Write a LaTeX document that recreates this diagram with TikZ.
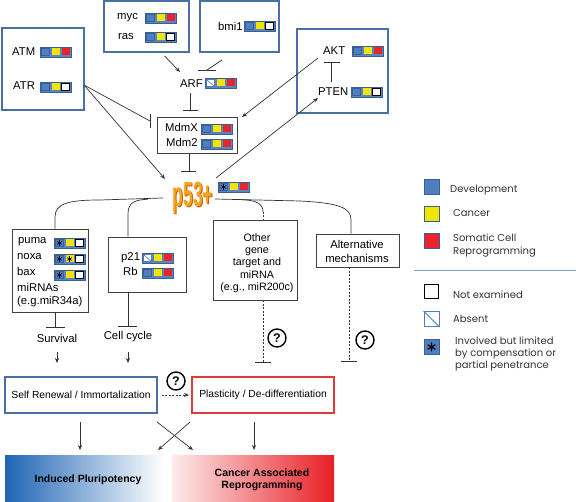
\documentclass[tikz,border=0pt]{standalone}
\usepackage{fontspec}
\setmainfont{Liberation Sans}
\newfontfamily\legfont{Poppins}
\usetikzlibrary{arrows.meta}
\definecolor{frameblue}{HTML}{4A6FA5}
\definecolor{sqblue}{HTML}{4F7FC0}
\definecolor{sqframe}{HTML}{5B84C4}
\definecolor{sqedge}{HTML}{3A5F95}
\definecolor{sqyellow}{HTML}{F2E600}
\definecolor{sqred}{HTML}{E8252B}
\definecolor{boxred}{HTML}{E03A3A}
\definecolor{linegray}{HTML}{333333}
\definecolor{p53dark}{HTML}{C8600A}
\definecolor{p53light}{HTML}{F5A423}
\definecolor{gradblue}{HTML}{1E64B4}
\definecolor{gradred}{HTML}{E81E25}
\definecolor{gradpink}{HTML}{FDECEC}
\definecolor{legline}{HTML}{7F9FCF}
\newcommand\astmark[4]{\draw[line width=#3] (#1,#2) +(90:#4) -- +(270:#4) (#1,#2) +(30:#4) -- +(210:#4) (#1,#2) +(150:#4) -- +(330:#4);}
\newcommand\cellB[1]{\filldraw[fill=sqblue,draw=sqedge,line width=0.4pt] (#1,1.5) rectangle ++(8,7);}
\newcommand\cellY[1]{\fill[sqyellow] (#1,1.5) rectangle ++(8,7);}
\newcommand\cellR[1]{\fill[sqred] (#1,1.5) rectangle ++(8,7);}
\newcommand\cellN[1]{\filldraw[fill=white,draw=black,line width=1.3pt] (#1,1.2) rectangle ++(8,7.6);}
\newcommand\cellA[1]{\filldraw[fill=white,draw=sqblue,line width=0.6pt] (#1,1.5) rectangle ++(8,7); \draw[sqblue,line width=0.6pt] (#1,1.5) -- ++(8,7);}
\newcommand\cellS[1]{\cellB{#1}\astmark{#1+4}{5}{0.6pt}{2.8}}
\newcommand\cellT[1]{\cellY{#1}\astmark{#1+4}{5}{0.6pt}{2.8}}
\newcommand\trip[5]{%
  \begin{scope}[shift={(#2)}]
    \coordinate (#1) at (0,0);
    \filldraw[fill=sqframe,draw=sqedge,line width=0.5pt] (0,0) rectangle (31,10);
    \csname cell#3\endcsname{1.5}
    \csname cell#4\endcsname{11.5}
    \csname cell#5\endcsname{21.5}
  \end{scope}}
\begin{document}
\begin{tikzpicture}[x=1pt,y=-1pt,
  bluebox/.style={draw=frameblue,line width=1.8pt,inner sep=0pt},
  graybox/.style={draw=black!75,line width=0.8pt,inner sep=0pt},
  redbox/.style={draw=boxred,line width=1.8pt,inner sep=0pt},
  conn/.style={draw=linegray,line width=0.7pt},
  act/.style={conn,-{Stealth[length=5pt,width=4pt]}},
  bar/.style={draw=linegray,line width=0.9pt},
  dashline/.style={conn,dash pattern=on 2pt off 1.5pt},
  lbl/.style={font=\fontsize{11.3}{13}\selectfont,inner sep=0pt,anchor=base west},
  ctr/.style={font=\fontsize{11.3}{13}\selectfont,inner sep=0pt,anchor=base},
  qmark/.style={circle,draw=black,line width=1.4pt,minimum size=18pt,inner sep=0pt,font=\bfseries\fontsize{12.5}{12.5}\selectfont},
  legsq/.style={minimum size=15pt,inner sep=0pt,line width=0.8pt},
  legtxt/.style={font=\legfont\fontsize{10}{12}\selectfont,inner sep=0pt,anchor=base west,text=black!80},
  btxt/.style={font=\bfseries\fontsize{10.5}{12.5}\selectfont,inner sep=0pt,align=center}
]
\useasboundingbox (0,0) rectangle (576,502);

% boxes
\node[bluebox,minimum width=82pt,minimum height=82pt] (atmbox) at (43,69) {};
\node[bluebox,minimum width=85pt,minimum height=51pt] (mycbox) at (146.5,26.5) {};
\node[bluebox,minimum width=79pt,minimum height=51pt] (bmibox) at (239.5,26.5) {};
\node[bluebox,minimum width=91pt,minimum height=84pt] (aktbox) at (342.5,71) {};
\node[graybox,minimum width=80pt,minimum height=36pt] (mdmbox) at (197.5,135) {};
\node[graybox,minimum width=76pt,minimum height=83pt] (pumabox) at (50,270.5) {};
\node[graybox,minimum width=78pt,minimum height=55pt] (p21box) at (147,264.5) {};
\node[graybox,minimum width=84pt,minimum height=80pt] (otherbox) at (255,260) {};
\node[graybox,minimum width=83pt,minimum height=33pt] (altbox) at (357.5,250.5) {};
\node[bluebox,minimum width=152pt,minimum height=36pt,font=\fontsize{10.3}{12}\selectfont] (selfbox) at (81,395) {Self Renewal / Immortalization};
\node[redbox,minimum width=142pt,minimum height=36pt,font=\fontsize{10.3}{12}\selectfont] (plastbox) at (263,395) {Plasticity / De-differentiation};

% labels and marker triples
\node[lbl] (atm) at (12,56) {ATM}; \trip{atmsq}{40,47}{B}{Y}{R}
\node[lbl] (atr) at (13,90) {ATR}; \trip{atrsq}{40,82}{B}{Y}{N}
\node[lbl] (myc) at (117,20) {myc}; \trip{mycsq}{145,13}{B}{Y}{R}
\node[lbl] (ras) at (118,40) {ras}; \trip{rassq}{145,32}{B}{Y}{N}
\node[lbl] (bmi) at (218,31) {bmi1}; \trip{bmisq}{244,21}{B}{Y}{N}
\node[lbl] (arf) at (180,88) {ARF}; \trip{arfsq}{205,78}{A}{Y}{R}
\node[lbl] (mdmx) at (165,132) {MdmX}; \trip{mdmxsq}{201,124}{B}{Y}{R}
\node[lbl] (mdm2) at (166,147) {Mdm2}; \trip{mdm2sq}{201,139}{B}{Y}{R}
\node[lbl] (akt) at (323,55) {AKT}; \trip{aktsq}{352,46}{B}{Y}{R}
\node[lbl] (pten) at (318,96) {PTEN}; \trip{ptensq}{351,87}{B}{Y}{N}
\node[lbl] (puma) at (18,244) {puma}; \trip{pumasq}{54,238}{S}{Y}{N}
\node[lbl] (noxa) at (17,260) {noxa}; \trip{noxasq}{54,254}{S}{T}{N}
\node[lbl] (bax) at (17,276) {bax}; \trip{baxsq}{54,270}{S}{Y}{N}
\node[lbl] (mirnas) at (17,292) {miRNAs};
\node[lbl] (mireg) at (17,305) {(e.g.miR34a)};
\node[lbl] (p21) at (121,261) {p21}; \trip{p21sq}{142,253}{A}{Y}{R}
\node[lbl] (rb) at (123,276) {Rb}; \trip{rbsq}{142,268}{B}{Y}{R}
\node[font=\fontsize{10.7}{12.3}\selectfont,align=center,inner sep=0pt] (othertxt) at (257,263) {Other\\gene\\target and\\miRNA\\(e.g., miR200c)};
\node[font=\fontsize{11.3}{14}\selectfont,align=center,inner sep=0pt] (alttxt) at (357,251) {Alternative\\mechanisms};
\node[ctr] (surv) at (57,343) {Survival};
\node[ctr] (cellc) at (128,340) {Cell cycle};

% p53 logo
\node[inner sep=0pt,text=p53dark] (p53) at (193.9,198.9) {\scalebox{0.5}[1]{\fontsize{35}{35}\selectfont\bfseries p53+}};
\node[inner sep=0pt,text=p53light] (p53front) at (193,198) {\scalebox{0.5}[1]{\fontsize{35}{35}\selectfont\bfseries p53+}};
\trip{p53sq}{218,182}{S}{Y}{R}

% question marks
\node[qmark] (q1) at (277,338) {?};
\node[qmark] (q2) at (365,340) {?};
\node[qmark] (q3) at (176,381) {?};

% connectors upstream
\coordinate (arfin) at (180,72);
\draw[act] ([xshift=18pt,yshift=-3pt]mycbox.south) -- (arfin);
\coordinate (bmiout) at (222,60);
\draw[conn] (bmiout) -- (207,70);
\draw[bar] (198,70) -- (216,70);
\draw[conn] ([xshift=10pt,yshift=-5pt]arf.south west) -- (190,110);
\draw[bar] (183,110) -- (198,110);
\draw[conn] (mdmbox.south -| 189,0) -- (189,171);
\draw[bar] (181,171) -- (196,171);
\coordinate (atrout) at (84,85);
\draw[conn] (atrout) -- (150,121);
\draw[bar] (150,114) -- (150,128);
\coordinate (p53in) at (165,179);
\draw[act] (atrout) -- (p53in);
\coordinate (aktout) at (318,58);
\coordinate (mdmin) at (242,117);
\draw[act] (aktout) -- (mdmin);
\coordinate (p53out) at (216,178);
\coordinate (ptenin) at (318,98);
\draw[act] (p53out) -- (ptenin);
\draw[conn] (331,82) -- (331,62);
\draw[bar] (324,62) -- (340,62);

% branches from p53
\draw[conn] (pumabox.north -| 55,0) -- (55,217) .. controls (55,203) and (70,200) .. (100,200) -- (163,198);
\draw[conn] (p21box.north -| 128,0) -- (128,214) .. controls (128,202) and (135,200) .. (148,199.2);
\draw[conn] (215,199) -- (300,201) .. controls (340,203) and (351,208) .. (351,220) -- (altbox.north -| 351,0);
\draw[conn] (240,199.6) .. controls (255,200) and (263,203) .. (263,212);
\draw[dashline] (263,212) -- (otherbox.north -| 263,0);

% downstream
\draw[conn] (pumabox.south -| 55,0) -- (55,327);
\draw[bar] (46,327) -- (65,327);
\draw[conn] (p21box.south -| 128,0) -- (128,326);
\draw[bar] (118,326) -- (137,326);
\draw[dashline] (otherbox.south -| 263,0) -- (263,362);
\draw[bar] (255,362) -- (271,362);
\draw[dashline] (altbox.south -| 349,0) -- (349,361);
\draw[bar] (341,361) -- (357,361);
\coordinate (survdown) at (57,363);
\draw[act] (57,352) -- (survdown);
\coordinate (ccdown) at (128,363);
\draw[act] (128,352) -- (ccdown);

% bottom
\draw[act,dash pattern=on 2pt off 1.5pt] (selfbox.east) ++(4,0) -- ([xshift=-2pt]plastbox.west);
\shade[left color=gradblue,right color=white] (5,456) rectangle (163,502);
\shade[left color=gradpink,right color=gradred] (172,456) rectangle (334,502);
\node[btxt] (ipsc) at (88,480) {Induced Pluripotency};
\node[btxt] (car) at (262,480) {Cancer Associated\\Reprogramming};
\draw[act] (80,422) -- (80,450);
\draw[act] (157,422) -- (193,450);
\draw[act] (190,422) -- (158,450);
\draw[act] (254,422) -- (254,450);

% legend
\node[legsq,fill=sqblue,draw=sqedge] (legdev) at (431.5,186.5) {};
\node[legtxt] (ldev) at (450,193) {Development};
\node[legsq,fill=sqyellow,draw=sqedge] (legcan) at (431.5,213.5) {};
\node[legtxt] (lcan) at (453,217) {Cancer};
\node[legsq,fill=sqred,draw=sqedge] (legscr) at (431.5,240.5) {};
\node[legtxt] (lscr1) at (453,242) {Somatic Cell};
\node[legtxt] (lscr2) at (453,255) {Reprogramming};
\draw[legline,line width=0.8pt] (414,270) -- (576,270);
\node[legsq,fill=white,draw=black,line width=1.8pt,minimum size=14pt] (legne) at (431.5,291.5) {};
\node[legtxt] (lne) at (453,299) {Not examined};
\node[legsq,fill=white,draw=sqblue,line width=1pt] (legab) at (431.5,319) {};
\draw[sqblue,line width=0.8pt] (legab.north west) -- (legab.south east);
\node[legtxt] (lab) at (453,323) {Absent};
\node[legsq,fill=sqblue,draw=sqedge] (leginv) at (431.5,347) {};
\astmark{431.5}{347}{1.2pt}{4.5}
\node[legtxt] (linv1) at (455,345) {Involved but limited};
\node[legtxt] (linv2) at (455,357) {by compensation or};
\node[legtxt] (linv3) at (455,369) {partial penetrance};
\end{tikzpicture}
\end{document}
